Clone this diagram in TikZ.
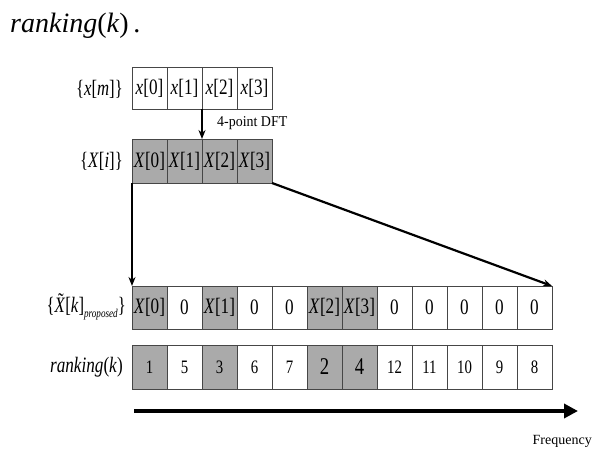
\documentclass[tikz,border=0pt]{standalone}
\usepackage{fontspec}
\usepackage{graphicx}
\setmainfont{Liberation Serif}
\usetikzlibrary{arrows.meta}
\definecolor{cellgray}{RGB}{170,170,170}
\definecolor{cellline}{RGB}{70,70,70}
\newcommand\sq[1]{\scalebox{0.78}[1]{#1}}
\tikzset{
  cell/.style={draw=cellline, line width=0.8pt, minimum width=35pt, inner sep=0pt, outer sep=0pt,
    anchor=north west, font=\fontsize{22}{22}\selectfont},
  shaded/.style={fill=cellgray},
  lbl/.style={anchor=east, inner sep=0pt, font=\fontsize{22}{22}\selectfont},
  conn/.style={line width=2.2pt, -{Stealth[length=9pt,width=7pt]}},
}
\begin{document}
\begin{tikzpicture}[x=1pt,y=-1pt]
\useasboundingbox[fill=white] (0,0) rectangle (592,450);
% title
\node[anchor=base west, inner sep=0pt, font=\fontsize{28}{28}\selectfont] (title) at (10,32) {\textit{ranking}(\textit{k})\,.};
% row 1
\foreach \i in {0,...,3}{
  \node[cell, minimum height=42pt] (a\i) at (132+35*\i,67) {\sq{\textit{x}[\i]}};
}
% row 2
\foreach \i in {0,...,3}{
  \node[cell, shaded, minimum height=44pt] (b\i) at (132+35*\i,139) {\sq{\textit{X}[\i]}};
}
% row 3
\foreach \i/\t/\s in {0/{\textit{X}[0]}/1,1/0/0,2/{\textit{X}[1]}/1,3/0/0,4/0/0,5/{\textit{X}[2]}/1,6/{\textit{X}[3]}/1,7/0/0,8/0/0,9/0/0,10/0/0,11/0/0}{
  \ifnum\s=1
    \node[cell, shaded, minimum height=43pt] (c\i) at (132+35*\i,286) {\sq{\t}};
  \else
    \node[cell, minimum height=43pt] (c\i) at (132+35*\i,286) {\sq{\t}};
  \fi
}
% row 4
\foreach \i/\t/\s/\f in {0/1/1/19,1/5/0/19,2/3/1/19,3/6/0/19,4/7/0/19,5/2/1/24,6/4/1/24,7/12/0/19,8/11/0/19,9/10/0/19,10/9/0/19,11/8/0/19}{
  \ifnum\s=1
    \node[cell, shaded, minimum height=44pt, font=\fontsize{\f}{\f}\selectfont] (d\i) at (132+35*\i,345) {\sq{\t}};
  \else
    \node[cell, minimum height=44pt, font=\fontsize{\f}{\f}\selectfont] (d\i) at (132+35*\i,345) {\sq{\t}};
  \fi
}
% labels
\node[lbl] (la) at (123,89) {\scalebox{0.76}[1]{\{\textit{x}[\textit{m}]\}}};
\node[lbl] (lb) at (123,161) {\scalebox{0.76}[1]{\{\textit{X}[\textit{i}]\}}};
\node[lbl] (lc) at (126,307) {\scalebox{0.76}[1]{\{\makebox[0pt][l]{\hspace{4.5pt}\raisebox{4.5pt}{\char"02DC}}\textit{X}[\textit{k}]\raisebox{-5pt}{\fontsize{12}{12}\selectfont\textit{proposed}}\}}};
\node[lbl] (ld) at (123,367) {\scalebox{0.78}[1]{\textit{ranking}(\textit{k})}};
% DFT arrow
\draw[conn, line width=1.8pt] (a1.south east) -- (b1.north east);
\node[anchor=west, inner sep=0pt, font=\fontsize{15}{15}\selectfont] (dft) at (217,123) {\scalebox{0.93}[1]{4-point DFT}};
% spreading arrows
\draw[conn] (b0.south west) -- (c0.north west);
\draw[conn] (b3.south east) -- (c11.north east);
% frequency axis
\coordinate (fs) at (134,411);
\coordinate (fe) at (578,411);
\draw[line width=4pt, -{Triangle[length=14pt,width=14pt]}] (fs) -- (fe);
\node[anchor=east, inner sep=0pt, font=\fontsize{14}{14}\selectfont] (freq) at (592,441) {Frequency};
\end{tikzpicture}
\end{document}
